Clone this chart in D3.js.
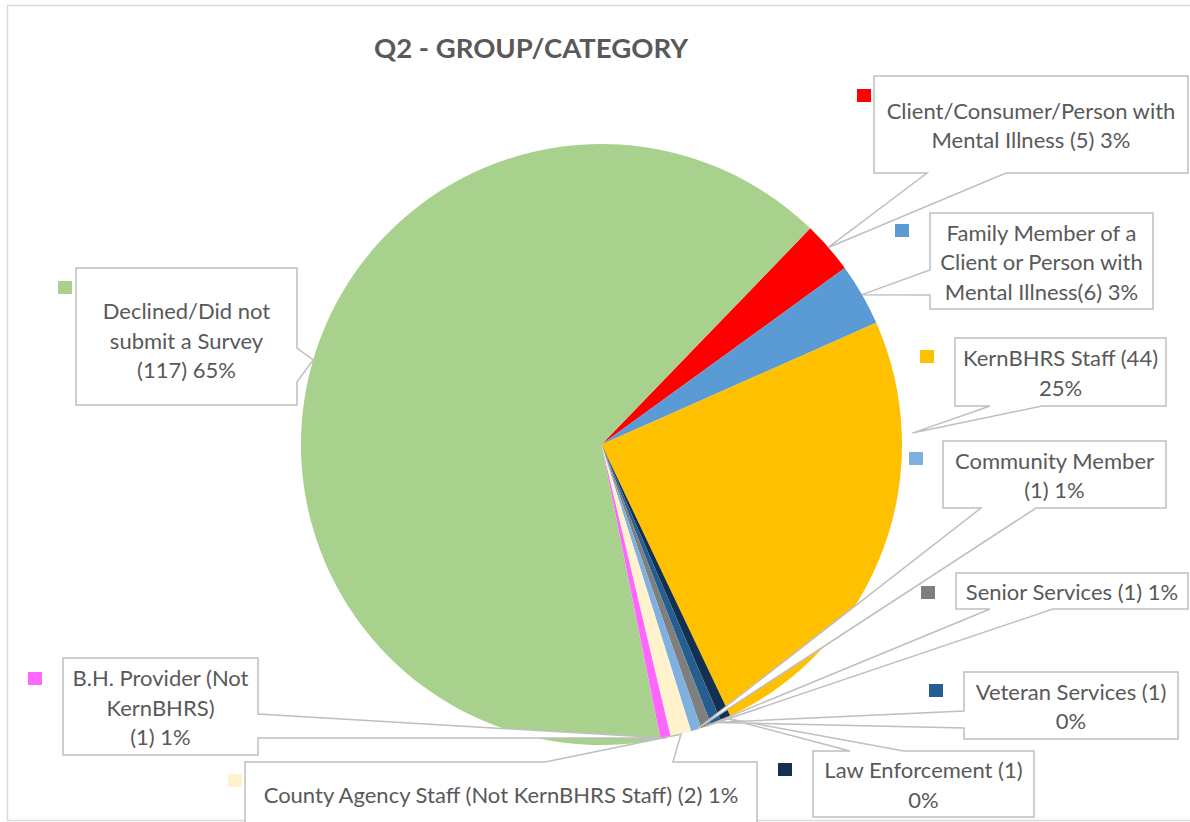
<!DOCTYPE html>
<meta charset="utf-8">
<script src="https://d3js.org/d3.v7.min.js"></script>
<style>
  body { margin: 0; background: #fff; }
  svg text { font-family: Lato, "Open Sans", sans-serif; fill: #595959; }
</style>
<div id="chart"></div>
<script>
  // data, in slice order (clockwise)
  var categories = ["Client/Consumer/Person with Mental Illness", "Family Member of a Client or Person with Mental Illness",
    "KernBHRS Staff", "Law Enforcement", "Veteran Services", "Senior Services", "Community Member",
    "County Agency Staff (Not KernBHRS Staff)", "B.H. Provider (Not KernBHRS)", "Declined/Did not submit a Survey"];
  var counts = [5, 6, 44, 1, 1, 1, 1, 2, 1, 117];
  var labelLines = [
    ["Client/Consumer/Person with", "Mental Illness (5) 3%"],
    ["Family Member of a", "Client or Person with", "Mental Illness(6) 3%"],
    ["KernBHRS Staff (44)", "25%"],
    ["Law Enforcement (1)", "0%"],
    ["Veteran Services (1)", "0%"],
    ["Senior Services (1) 1%"],
    ["Community Member", "(1) 1%"],
    ["County Agency Staff (Not KernBHRS Staff) (2) 1%"],
    ["B.H. Provider (Not", "KernBHRS)", "(1) 1%"],
    ["Declined/Did not", "submit a Survey", "(117) 65%"]
  ];
  var colors = ["#FF0000", "#5B9BD5", "#FFC000", "#14304F", "#255E91", "#7F7F7F", "#7FB0DF", "#FFF2CC", "#FF66FF", "#A9D18E"];

  // callout boxes (x0,y0,x1,y1), side where the pointer leaves, legend key position
  var callouts = [
    {x0: 874, y0: 76, x1: 1188, y1: 173, side: "bottom", a: 927, b: 1006, key: [857, 89]},
    {x0: 930, y0: 213, x1: 1153, y1: 309, side: "left", a: 270, b: 295, key: [895, 224]},
    {x0: 955, y0: 338, x1: 1166, y1: 406, side: "bottom", a: 990, b: 1042, key: [920, 350], tipAngle: 87.9, tipR: 1.035},
    {x0: 813, y0: 751, x1: 1034, y1: 817, side: "top", a: 850, b: 904, key: [778, 763]},
    {x0: 964, y0: 672, x1: 1178, y1: 739, side: "left", a: 711, b: 728, key: [929, 684]},
    {x0: 956, y0: 573, x1: 1188, y1: 609, side: "bottom", a: 990, b: 1053, key: [921, 586]},
    {x0: 943, y0: 441, x1: 1166, y1: 508, side: "bottom", a: 981, b: 1036, key: [909, 452]},
    {x0: 245, y0: 762, x1: 757, y1: 826, side: "top", a: 545, b: 673, key: [228, 774]},
    {x0: 63, y0: 658, x1: 258, y1: 755, side: "right", a: 714, b: 738, key: [28, 672]},
    {x0: 76, y0: 268, x1: 297, y1: 405, side: "right", a: 348, b: 382, key: [58, 281], dy: 3}
  ];

  var width = 1190, height = 822;
  var cx = 601.5, cy = 444.5, radius = 300.5;
  var startDeg = 44;
  var fontSize = 22, lineH = 29.5;

  var svg = d3.select("#chart").append("svg")
    .attr("width", width)
    .attr("height", height);

  svg.append("rect")
    .attr("x", 7.5).attr("y", 5.5)
    .attr("width", width).attr("height", 815)
    .attr("fill", "#fff")
    .attr("stroke", "#D9D9D9")
    .attr("stroke-width", 1.5);

  svg.append("text")
    .attr("x", 531)
    .attr("y", 58)
    .attr("text-anchor", "middle")
    .style("font-size", "27.5px")
    .style("font-weight", "bold")
    .text("Q2 - GROUP/CATEGORY");

  var data = counts.map(function(c, i) { return {name: categories[i], value: c, i: i}; });

  var pie = d3.pie()
    .sort(null)
    .value(function(d) { return d.value; })
    .startAngle(startDeg * Math.PI / 180)
    .endAngle(startDeg * Math.PI / 180 + 2 * Math.PI);

  var arcs = pie(data);
  var arc = d3.arc().innerRadius(0).outerRadius(radius);

  var g = svg.append("g").attr("transform", "translate(" + cx + "," + cy + ")");

  g.selectAll("path.slice")
    .data(arcs)
    .enter()
    .append("path")
    .attr("class", "slice")
    .attr("d", arc)
    .attr("fill", function(d) { return colors[d.data.i]; });

  // pointer tip for each callout: mid-angle of the slice on the rim
  function tipPoint(d, c) {
    var ang = c.tipAngle != null ? c.tipAngle * Math.PI / 180 : (d.startAngle + d.endAngle) / 2;
    var r = radius * (c.tipR || 1);
    return [cx + r * Math.sin(ang), cy - r * Math.cos(ang)];
  }

  function calloutPath(c, t) {
    var p = d3.path();
    p.moveTo(c.x0, c.y0);
    if (c.side === "top") {
      p.lineTo(c.a, c.y0); p.lineTo(t[0], t[1]); p.lineTo(c.b, c.y0);
    }
    p.lineTo(c.x1, c.y0);
    if (c.side === "right") {
      p.lineTo(c.x1, c.a); p.lineTo(t[0], t[1]); p.lineTo(c.x1, c.b);
    }
    p.lineTo(c.x1, c.y1);
    if (c.side === "bottom") {
      p.lineTo(c.b, c.y1); p.lineTo(t[0], t[1]); p.lineTo(c.a, c.y1);
    }
    p.lineTo(c.x0, c.y1);
    if (c.side === "left") {
      p.lineTo(c.x0, c.b); p.lineTo(t[0], t[1]); p.lineTo(c.x0, c.a);
    }
    p.closePath();
    return p.toString();
  }

  var labels = svg.selectAll("g.callout")
    .data(arcs)
    .enter()
    .append("g")
    .attr("class", "callout");

  labels.append("path")
    .attr("d", function(d) { var c = callouts[d.data.i]; return calloutPath(c, tipPoint(d, c)); })
    .attr("fill", "#fff")
    .attr("stroke", "#BFBFBF")
    .attr("stroke-width", 1.5)
    .attr("stroke-linejoin", "miter");

  labels.append("rect")
    .attr("x", function(d) { return callouts[d.data.i].key[0]; })
    .attr("y", function(d) { return callouts[d.data.i].key[1]; })
    .attr("width", 14)
    .attr("height", 13)
    .attr("fill", function(d) { return colors[d.data.i]; });

  labels.each(function(d) {
    var c = callouts[d.data.i];
    var lines = labelLines[d.data.i];
    var mx = (c.x0 + c.x1) / 2;
    var my = (c.y0 + Math.min(c.y1, 826)) / 2 + 1.5 + (c.dy || 0);
    var t = d3.select(this).append("text")
      .attr("text-anchor", "middle")
      .style("font-size", fontSize + "px");
    lines.forEach(function(line, k) {
      t.append("tspan")
        .attr("x", mx)
        .attr("y", my + (k - (lines.length - 1) / 2) * lineH)
        .attr("dy", "0.35em")
        .text(line);
    });
  });
</script>
